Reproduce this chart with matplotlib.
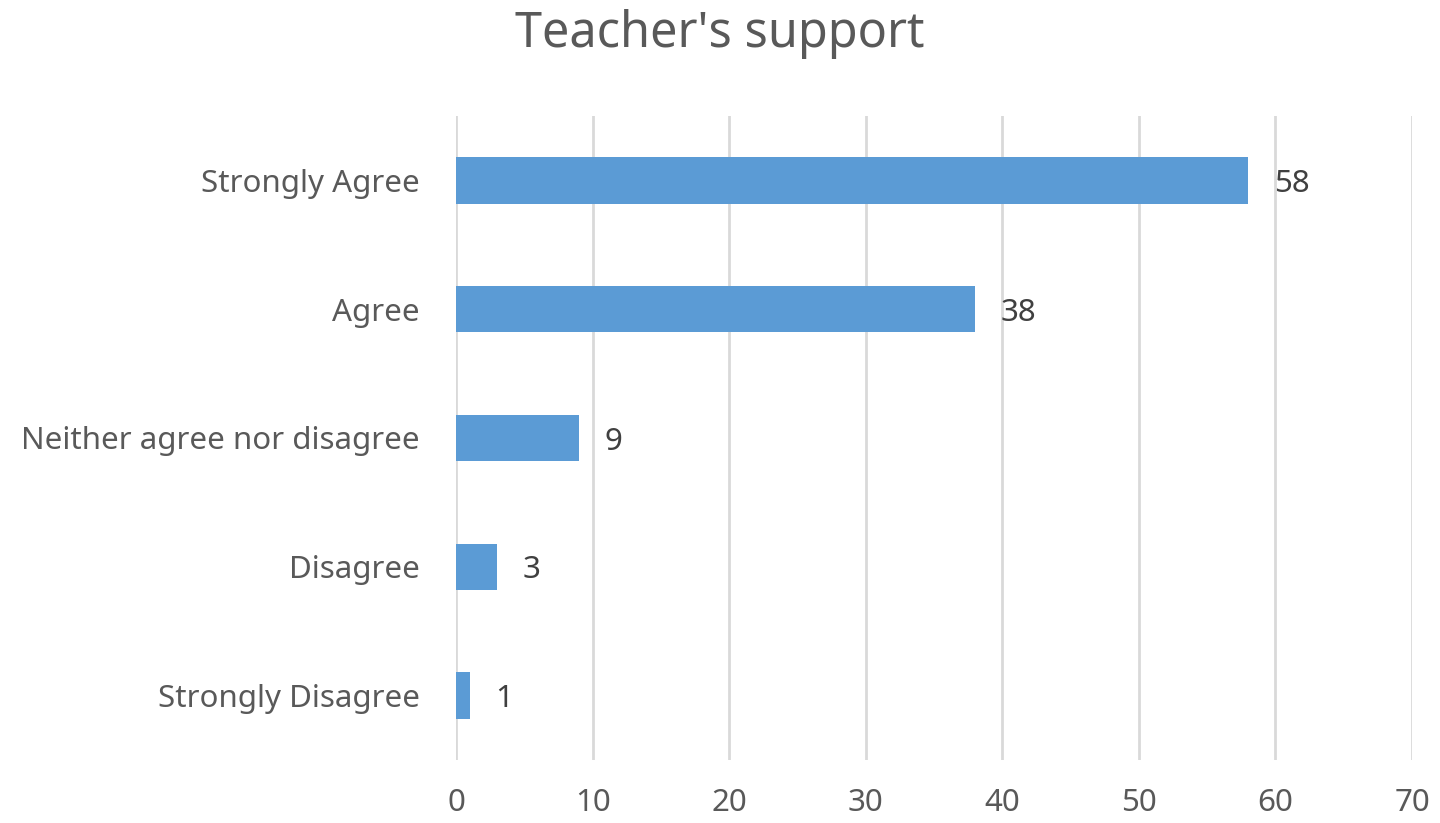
import matplotlib
matplotlib.use("Agg")
import matplotlib.pyplot as plt

categories = ["Strongly Disagree", "Disagree", "Neither agree nor disagree", "Agree", "Strongly Agree"]
values = [1, 3, 9, 38, 58]
xticks = [0, 10, 20, 30, 40, 50, 60, 70]
title = "Teacher's support"

plt.rcParams['font.family'] = ['Noto Sans', 'DejaVu Sans']
txt = "#595959"

fig = plt.figure(figsize=(14.4, 8.23), dpi=100)
ax = fig.add_axes([456/1440, 1-760/823, (1412-456)/1440, (760-116)/823])
y = list(range(len(categories)))
ax.barh(y, values, height=0.36, color="#5B9BD5", zorder=3)
for yi, v in zip(y, values):
    ax.text(v + 1.9, yi, str(v), va="center_baseline", ha="left", fontsize=22.5, color="#404040")
ax.set_xlim(0, 70)
ax.set_ylim(-0.5, 4.5)
ax.set_xticks(xticks)
ax.set_yticks(y)
ax.set_yticklabels(categories)
ax.grid(axis="x", color="#D9D9D9", linewidth=2, zorder=0)
for s in ax.spines.values():
    s.set_visible(False)
ax.tick_params(axis="both", length=0, labelsize=22.5, labelcolor=txt)
ax.tick_params(axis="x", pad=20)
ax.tick_params(axis="y", pad=26)
fig.text(0.5, 1-34/823, title, ha="center", va="center", fontsize=35, color=txt)
fig.savefig("out.png", dpi=100)
